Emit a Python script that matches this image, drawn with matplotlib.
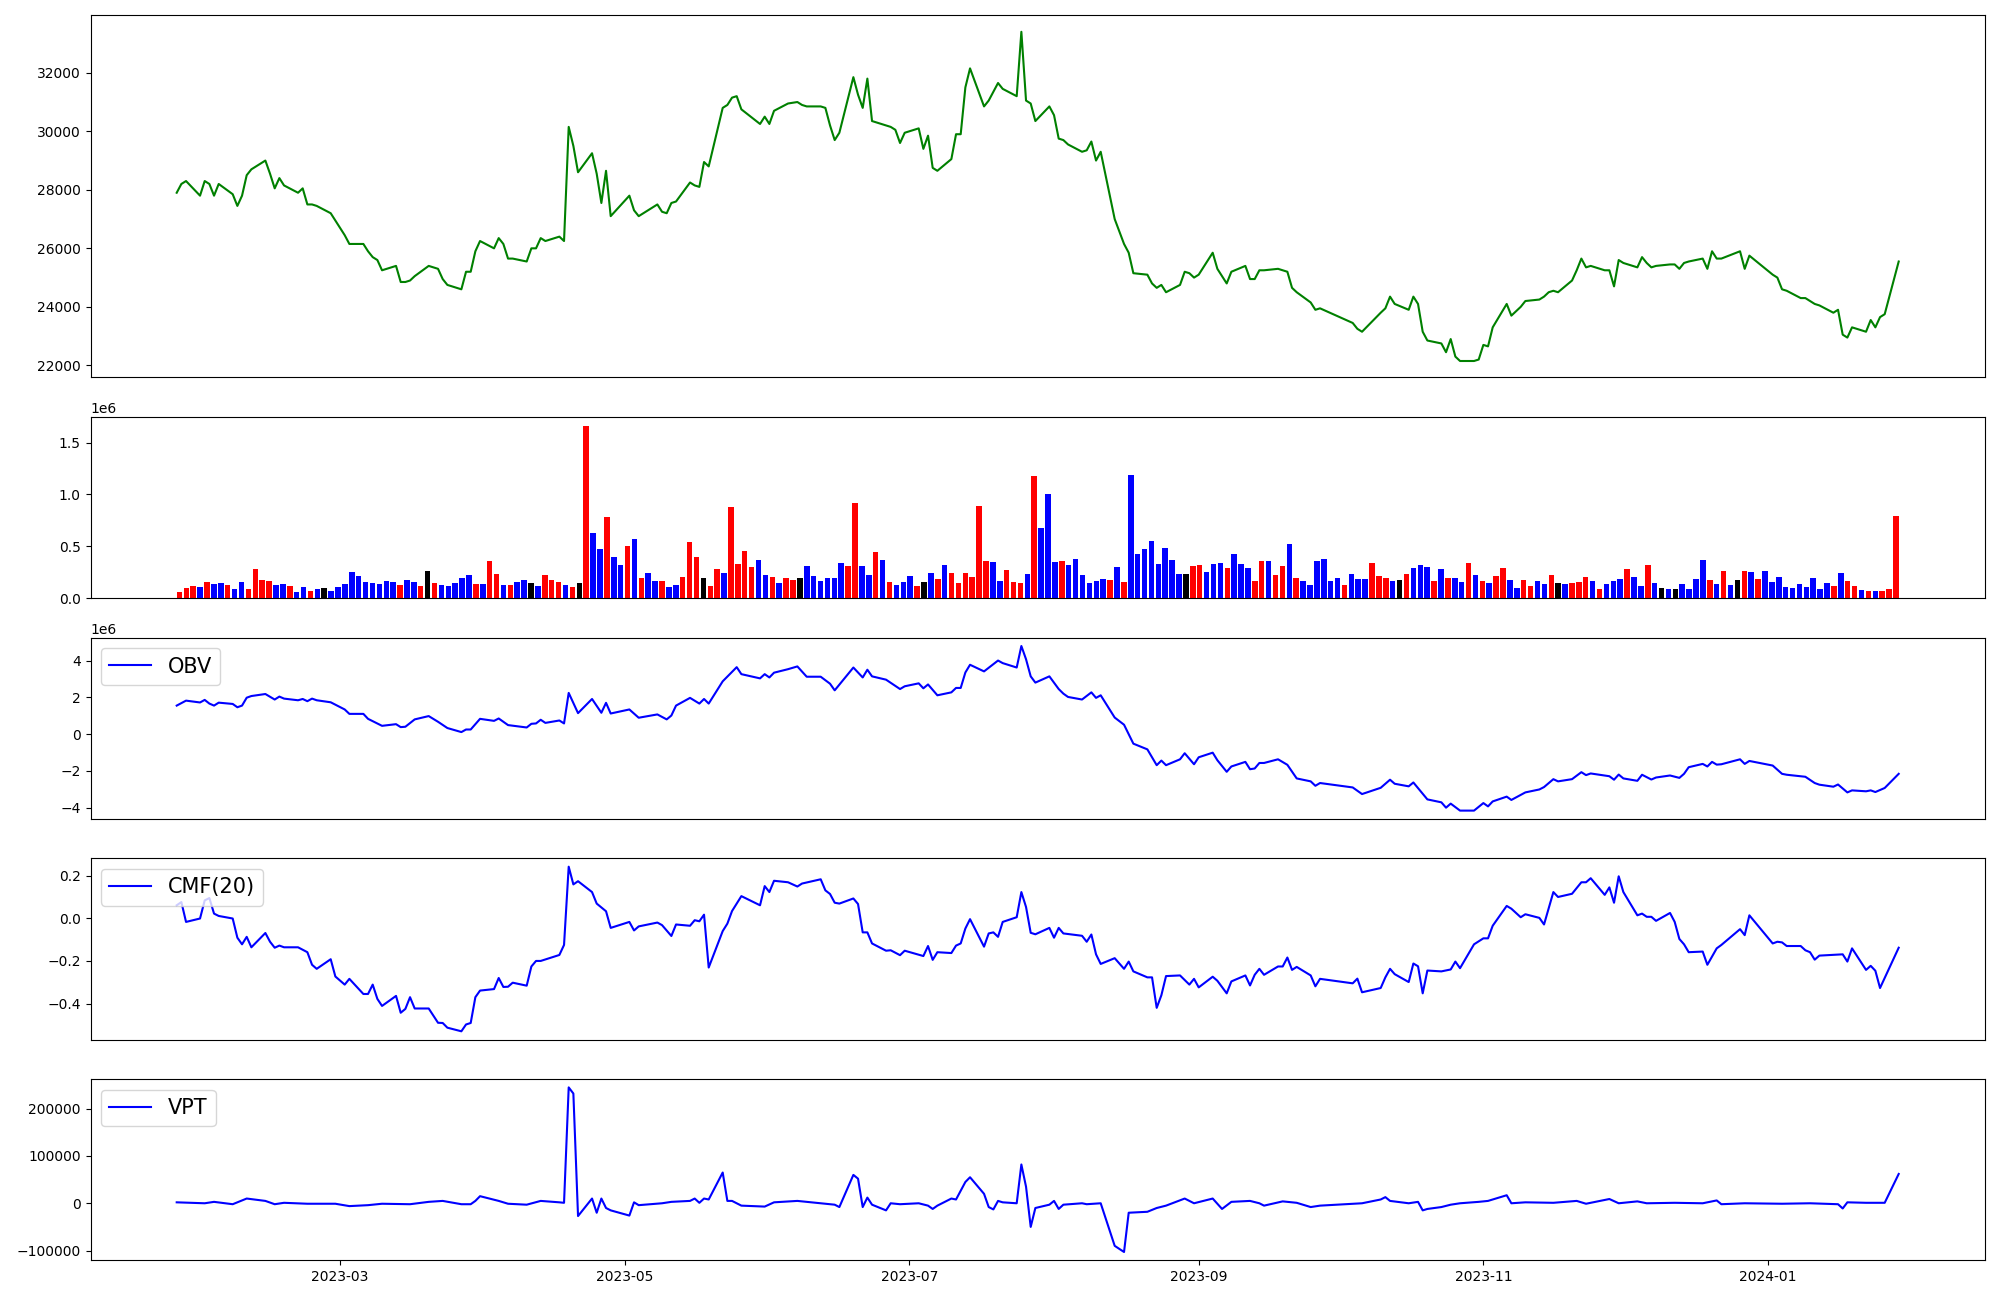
import matplotlib
matplotlib.use("Agg")
import matplotlib.pyplot as plt
import pandas as pd

# KRX trading days, 2023-01-25 .. 2024-01-29
holidays = ["2023-03-01", "2023-05-01", "2023-05-05", "2023-05-29", "2023-06-06",
            "2023-08-15", "2023-09-28", "2023-09-29", "2023-10-02", "2023-10-03",
            "2023-10-09", "2023-12-25", "2023-12-29", "2024-01-01"]
dates = pd.bdate_range("2023-01-25", "2024-01-29", freq="C", holidays=holidays)

close = [27900, 28200, 28300, 27800, 28300, 28200, 27800, 28200, 27850, 27450,
         27800, 28500, 28700, 29000, 28550, 28050, 28400, 28150, 27900, 28050,
         27500, 27500, 27450, 27200, 26950, 26450, 26150, 26150, 25900, 25700,
         25600, 25250, 25400, 24850, 24850, 24900, 25050, 25400, 25350, 25300,
         24950, 24750, 24600, 25200, 25200, 25900, 26250, 26000, 26350, 26150,
         25650, 25650, 25550, 26000, 26000, 26350, 26250, 26400, 26250, 30150,
         29500, 28600, 29250, 28550, 27550, 28650, 27100, 27800, 27300, 27100,
         27500, 27250, 27200, 27550, 27600, 28250, 28150, 28100, 28950, 28800,
         30800, 30900, 31150, 31200, 30750, 30250, 30500, 30250, 30700, 30950,
         31000, 30900, 30850, 30850, 30800, 30200, 29700, 29950, 31850, 31250,
         30800, 31800, 30350, 30200, 30150, 30050, 29600, 29950, 30100, 29400,
         29850, 28750, 28650, 29050, 29900, 29900, 31500, 32150, 30850, 31050,
         31350, 31650, 31450, 31200, 33400, 31050, 30950, 30350, 30850, 30550,
         29750, 29700, 29550, 29300, 29350, 29650, 29000, 29300, 27000, 26150,
         25850, 25150, 25100, 24800, 24650, 24750, 24500, 24750, 25200, 25150,
         25000, 25100, 25850, 25300, 25050, 24800, 25200, 25400, 24950, 24950,
         25250, 25250, 25300, 25250, 25200, 24650, 24500, 24150, 23900, 23950,
         23450, 23250, 23150, 23800, 23950, 24350, 24100, 23900, 24350, 24100,
         23150, 22850, 22750, 22450, 22900, 22300, 22150, 22150, 22200, 22700,
         22650, 23300, 24100, 23700, 23850, 24000, 24200, 24250, 24350, 24500,
         24550, 24500, 24900, 25250, 25650, 25350, 25400, 25250, 25250, 24700,
         25600, 25500, 25350, 25700, 25500, 25350, 25400, 25450, 25450, 25300,
         25500, 25550, 25650, 25300, 25900, 25650, 25650, 25900, 25300, 25750,
         25100, 25000, 24600, 24550, 24300, 24300, 24200, 24100, 24050, 23800,
         23900, 23050, 22950, 23300, 23150, 23550, 23300, 23650, 23750, 25550]

# volume in millions of shares
volume = [.061, .100, .119, .109, .158, .138, .148, .129, .090, .158,
          .090, .283, .177, .167, .129, .138, .119, .061, .109, .071,
          .090, .100, .071, .109, .138, .254, .215, .158, .148, .138,
          .167, .158, .129, .177, .158, .119, .264, .148, .129, .119,
          .148, .196, .225, .138, .138, .360, .235, .129, .129, .158,
          .177, .148, .119, .225, .177, .158, .129, .109, .148, 1.662,
          .630, .476, .785, .399, .322, .505, .572, .196, .244, .167,
          .167, .109, .129, .206, .543, .399, .196, .119, .283, .244,
          .881, .331, .457, .302, .370, .225, .206, .148, .196, .177,
          .196, .312, .215, .167, .196, .196, .341, .312, .920, .312,
          .225, .447, .370, .158, .129, .158, .215, .119, .158, .244,
          .186, .322, .244, .148, .244, .206, .891, .360, .350, .167,
          .273, .158, .148, .235, 1.180, .678, 1.006, .350, .360, .322,
          .379, .225, .148, .167, .186, .177, .302, .158, 1.190, .428,
          .476, .553, .331, .486, .370, .235, .235, .312, .322, .254,
          .331, .341, .293, .428, .331, .293, .167, .360, .360, .225,
          .312, .524, .196, .167, .129, .360, .379, .167, .196, .129,
          .235, .186, .186, .341, .215, .196, .167, .177, .235, .293,
          .322, .302, .167, .283, .196, .196, .158, .341, .225, .167,
          .148, .215, .293, .177, .100, .177, .119, .167, .138, .225,
          .148, .138, .148, .158, .206, .167, .090, .138, .167, .186,
          .283, .206, .119, .322, .148, .100, .090, .090, .138, .090,
          .186, .370, .177, .138, .264, .129, .177, .264, .254, .186,
          .264, .158, .206, .109, .100, .138, .109, .196, .090, .148,
          .119, .244, .167, .119, .080, .071, .071, .071, .090, .794]

# r = up, b = down, k = unchanged
vol_dir = ("rrrbrbbrbb" "rrrrbbrbbr" "bkbbbbbbbb" "bbrbbrkrbb" "bbbrbrrbrb"
           "bkbrrrbrkr" "bbrbbrbrbb" "rbbrrrkrrb" "rrrrbbrbrr" "kbbbbbbrrb"
           "brbrbbbrkb" "rbrrrrrrbb" "rrrbrbbbrb" "bbbbbrbrbb" "bbbbbbkrrb"
           "bbrbbbrrbr" "rbrbbbbbbr" "bbbrrrbkrb" "bbrbrbbrbr" "brrbbrrbbr"
           "kbrrrbrbbb" "rbbrbkbkbb" "bbrbrbkrbr" "bbbbbbbbbb" "rbrrbrbrrr")

# indicator lines, as (trading-day index, value) at the visible vertices
obv_idx = [0, 2, 3, 4, 5, 6, 7, 8, 9, 10, 11, 12, 13, 15, 16, 17, 18, 19, 20, 21,
           22, 23, 25, 26, 27, 28, 31, 32, 33, 34, 36, 37, 39, 41, 42, 43, 44, 46, 47, 48,
           50, 52, 53, 54, 55, 56, 57, 58, 59, 61, 62, 64, 65, 66, 67, 69, 70, 72, 73, 74,
           75, 77, 78, 79, 80, 83, 84, 85, 86, 87, 88, 89, 90, 92, 93, 95, 96, 98, 100, 101,
           102, 103, 106, 107, 108, 109, 110, 112, 113, 114, 115, 116, 117, 118, 121, 122, 123, 124, 125, 126,
           127, 128, 130, 131, 132, 133, 135, 136, 137, 138, 139, 141, 142, 144, 145, 146, 147, 148, 150, 151,
           152, 153, 155, 156, 157, 158, 159, 160, 161, 162, 164, 166, 167, 168, 169, 170, 172, 173, 175, 176,
           177, 178, 181, 182, 183, 184, 186, 187, 189, 190, 191, 192, 193, 196, 197, 198, 200, 201, 202, 204,
           205, 206, 208, 209, 210, 211, 212, 213, 215, 216, 217, 219, 220, 221, 222, 223, 224, 225, 226, 227,
           228, 229, 230, 232, 233, 235, 237, 238, 239, 240, 242, 243, 244, 245, 246, 248, 249]
obv_val = [1.55, 1.82, 1.72, 1.86, 1.66, 1.55, 1.71, 1.64, 1.46, 1.55, 1.98, 2.07, 2.18, 1.88, 2.04, 1.93, 1.84, 1.91, 1.79, 1.93,
           1.84, 1.73, 1.34, 1.10, 1.10, 0.83, 0.45, 0.54, 0.38, 0.40, 0.80, 0.98, 0.67, 0.33, 0.11, 0.25, 0.25, 0.83, 0.72, 0.85,
           0.49, 0.36, 0.56, 0.58, 0.78, 0.61, 0.74, 0.58, 2.24, 1.14, 1.91, 1.16, 1.70, 1.12, 1.34, 0.89, 1.07, 0.80, 1.01, 1.55,
           1.97, 1.66, 1.91, 1.66, 2.87, 3.64, 3.26, 3.03, 3.26, 3.08, 3.34, 3.53, 3.68, 3.12, 3.12, 2.74, 2.38, 3.62, 3.08, 3.50,
           3.14, 2.96, 2.45, 2.60, 2.76, 2.49, 2.70, 2.11, 2.27, 2.51, 2.51, 3.35, 3.77, 3.41, 4.00, 3.86, 3.62, 4.79, 4.07, 3.14,
           2.80, 3.14, 2.45, 2.20, 2.02, 1.88, 2.27, 1.97, 2.11, 0.90, 0.51, -0.52, -0.83, -1.69, -1.44, -1.69, -1.37, -1.04, -1.64, -1.26,
           -1.01, -1.42, -2.05, -1.76, -1.51, -1.91, -1.87, -1.57, -1.57, -1.37, -1.67, -2.41, -2.57, -2.81, -2.66, -2.90, -3.26, -2.92, -2.48, -2.70,
           -2.84, -2.63, -3.55, -3.71, -4.00, -3.78, -4.16, -4.16, -3.75, -3.93, -3.66, -3.40, -3.58, -3.17, -3.01, -2.88, -2.45, -2.57, -2.45, -2.07,
           -2.23, -2.14, -2.29, -2.48, -2.20, -2.41, -2.54, -2.21, -2.47, -2.36, -2.25, -2.38, -2.16, -1.80, -1.62, -1.76, -1.51, -1.66, -1.64, -1.37,
           -1.62, -1.46, -1.71, -2.16, -2.21, -2.32, -2.66, -2.75, -2.86, -2.74, -3.17, -3.06, -3.11, -3.06, -3.15, -2.93, -2.16]

cmf_idx = [0, 1, 2, 3, 4, 5, 6, 7, 8, 9, 10, 11, 12, 13, 14, 15, 16, 17, 18, 20,
           21, 22, 23, 24, 25, 26, 27, 28, 29, 30, 31, 32, 33, 34, 35, 36, 37, 39, 40, 41,
           42, 43, 44, 45, 46, 47, 48, 49, 50, 51, 52, 53, 54, 55, 57, 58, 59, 60, 61, 62,
           63, 65, 66, 67, 68, 69, 70, 71, 73, 74, 75, 76, 77, 78, 79, 80, 81, 82, 84, 85,
           86, 87, 88, 89, 90, 91, 93, 94, 95, 96, 97, 98, 99, 100, 101, 102, 103, 104, 106, 107,
           109, 110, 111, 112, 113, 114, 115, 116, 117, 118, 119, 120, 121, 122, 123, 124, 125, 126, 127, 128,
           129, 130, 131, 133, 134, 135, 136, 137, 138, 139, 140, 141, 142, 143, 144, 145, 146, 147, 149, 150,
           151, 152, 153, 155, 156, 157, 158, 159, 160, 161, 162, 163, 164, 165, 166, 167, 168, 169, 170, 171,
           172, 173, 174, 175, 176, 177, 178, 179, 180, 181, 182, 184, 185, 186, 187, 189, 190, 191, 192, 193,
           195, 196, 197, 198, 200, 201, 202, 204, 205, 206, 207, 208, 209, 210, 211, 212, 213, 214, 215, 216,
           217, 218, 219, 220, 221, 222, 223, 225, 226, 227, 228, 229, 230, 231, 232, 233, 234, 235, 236, 237,
           238, 241, 242, 243, 244, 245, 246, 247, 248, 249]
cmf_val = [0.061, 0.076, -0.017, -0.001, 0.084, 0.095, 0.022, 0.011, -0.001, -0.091, -0.122, -0.087, -0.136, -0.069, -0.110, -0.138, -0.128, -0.136, -0.136, -0.159,
           -0.218, -0.237, -0.192, -0.273, -0.311, -0.284, -0.355, -0.355, -0.311, -0.378, -0.411, -0.364, -0.443, -0.425, -0.370, -0.423, -0.423, -0.490, -0.491, -0.513,
           -0.530, -0.498, -0.491, -0.370, -0.339, -0.332, -0.280, -0.322, -0.321, -0.302, -0.316, -0.226, -0.200, -0.200, -0.172, -0.125, 0.242, 0.159, 0.174, 0.123,
           0.069, 0.033, -0.045, -0.017, -0.057, -0.038, -0.020, -0.032, -0.083, -0.029, -0.035, -0.009, -0.014, 0.017, -0.231, -0.060, -0.025, 0.034, 0.104, 0.061,
           0.151, 0.123, 0.176, 0.169, 0.149, 0.163, 0.183, 0.131, 0.114, 0.073, 0.069, 0.093, 0.067, -0.066, -0.066, -0.118, -0.152, -0.150, -0.173, -0.152,
           -0.177, -0.130, -0.195, -0.159, -0.163, -0.128, -0.118, -0.048, -0.004, -0.133, -0.071, -0.066, -0.087, -0.017, 0.005, 0.123, 0.053, -0.068, -0.075, -0.045,
           -0.091, -0.045, -0.071, -0.082, -0.110, -0.076, -0.169, -0.214, -0.187, -0.237, -0.203, -0.249, -0.277, -0.277, -0.420, -0.361, -0.271, -0.268, -0.311, -0.284,
           -0.324, -0.274, -0.293, -0.352, -0.296, -0.268, -0.315, -0.265, -0.237, -0.265, -0.226, -0.226, -0.184, -0.242, -0.228, -0.268, -0.319, -0.284, -0.305, -0.283,
           -0.347, -0.327, -0.277, -0.237, -0.262, -0.299, -0.212, -0.225, -0.352, -0.245, -0.249, -0.240, -0.203, -0.234, -0.122, -0.094, -0.094, -0.035, 0.058, 0.045,
           0.005, 0.019, 0.002, -0.029, 0.123, 0.100, 0.115, 0.169, 0.169, 0.188, 0.110, 0.145, 0.073, 0.197, 0.123, 0.014, 0.022, 0.007, 0.007, -0.012,
           0.025, -0.017, -0.097, -0.122, -0.159, -0.156, -0.218, -0.141, -0.125, -0.051, -0.079, 0.014, -0.118, -0.110, -0.113, -0.130, -0.130, -0.150, -0.159, -0.194,
           -0.175, -0.169, -0.203, -0.141, -0.242, -0.223, -0.246, -0.327, -0.280, -0.138]

vpt_idx = [0, 4, 6, 8, 11, 13, 15, 17, 20, 24, 26, 28, 31, 35, 37, 40, 42, 44, 45, 46,
           48, 50, 52, 55, 57, 58, 59, 60, 61, 62, 63, 64, 65, 66, 67, 68, 69, 71, 73, 75,
           76, 77, 78, 79, 80, 81, 82, 84, 86, 88, 90, 93, 96, 97, 98, 99, 100, 101, 102, 103,
           104, 106, 108, 110, 111, 112, 113, 114, 116, 117, 118, 119, 120, 121, 122, 123, 124, 125, 126, 127,
           128, 129, 130, 131, 133, 134, 137, 138, 139, 140, 142, 144, 146, 148, 150, 152, 154, 156, 158, 160,
           161, 163, 166, 167, 169, 172, 173, 174, 175, 177, 179, 180, 181, 182, 184, 186, 188, 190, 192, 193,
           196, 200, 203, 205, 208, 210, 212, 214, 218, 222, 225, 226, 228, 232, 236, 240, 241, 242, 244, 248,
           249]
vpt_val = [2000, 0, 3000, -2000, 10000, 5000, -2000, 1000, -1000, -1000, -6000, -4000, -1000, -2000, 3000, 5000, -2000, -2000, 5000, 15000,
           5000, -1000, -3000, 5000, 2000, 1000, 245000, 232000, -27000, 10000, -20000, 10000, -10000, -15000, -26000, 2000, -4000, 0, 3000, 5000,
           10000, 1000, 10000, 8000, 65000, 5000, 5000, -5000, -7000, 2000, 5000, 0, -3000, -8000, 60000, 52000, -8000, 12000, -3000, -15000,
           0, -2000, 0, -5000, -12000, -5000, 10000, 8000, 45000, 55000, 20000, -8000, -13000, 5000, 2000, 0, 82000, 35000, -50000, -10000,
           -3000, 5000, -12000, -3000, 0, -2000, 0, -90000, -103000, -20000, -18000, -10000, -5000, 10000, 0, 10000, -12000, 3000, 5000, 0,
           -5000, 4000, 1000, -8000, -5000, 0, 8000, 13000, 5000, 0, 3000, -15000, -12000, -8000, -3000, 0, 3000, 5000, 17000, 0,
           2000, 1000, 5000, -1000, 9000, 0, 4000, 0, 1000, 0, 6000, -2000, 0, -1000, 0, -2000, -11000, 2000, 1000, 1000,
           62000]

fig = plt.figure(figsize=(20, 13), dpi=100)
gs = fig.add_gridspec(5, 1, height_ratios=[2, 1, 1, 1, 1], left=0.0453, right=0.9924,
                      top=0.9882, bottom=0.0306, hspace=0.1824)
ax_price = fig.add_subplot(gs[0])
ax_vol = fig.add_subplot(gs[1])
ax_obv = fig.add_subplot(gs[2], sharex=ax_price)
ax_cmf = fig.add_subplot(gs[3], sharex=ax_price)
ax_vpt = fig.add_subplot(gs[4], sharex=ax_price)

ax_price.plot(dates, close, color="green")
ax_price.tick_params(bottom=False, labelbottom=False)

colors = {"r": "red", "b": "blue", "k": "black"}
ax_vol.bar(range(len(volume)), [v * 1e6 for v in volume],
           color=[colors[c] for c in vol_dir])
ax_vol.set_xticks([])

ax_obv.plot(dates[obv_idx], [v * 1e6 for v in obv_val], color="blue", label="OBV")
ax_obv.legend(loc="upper left", fontsize=15)
ax_obv.tick_params(bottom=False, labelbottom=False)

ax_cmf.plot(dates[cmf_idx], cmf_val, color="blue", label="CMF(20)")
ax_cmf.legend(loc="upper left", fontsize=15)
ax_cmf.tick_params(bottom=False, labelbottom=False)

ax_vpt.plot(dates[vpt_idx], vpt_val, color="blue", label="VPT")
ax_vpt.legend(loc="upper left", fontsize=15)

fig.savefig("out.png", dpi=100)
